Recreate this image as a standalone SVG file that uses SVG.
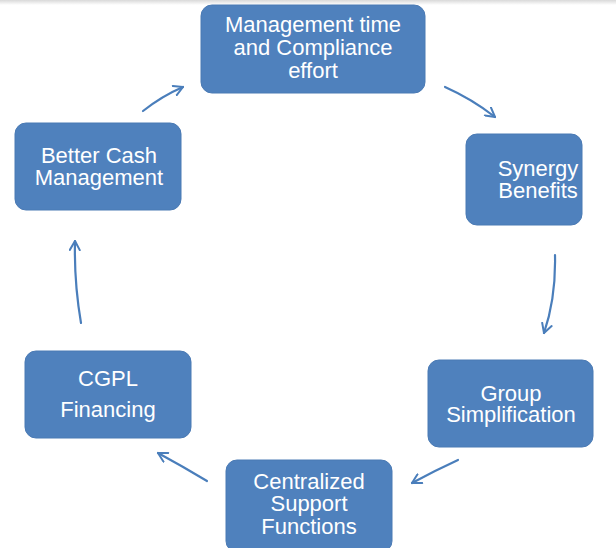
<svg xmlns="http://www.w3.org/2000/svg" width="616" height="548" viewBox="0 0 616 548">
<defs>
<linearGradient id="topband" x1="0" y1="0" x2="0" y2="1">
<stop offset="0" stop-color="#d9d9d9"/>
<stop offset="1" stop-color="#ffffff"/>
</linearGradient>
<marker id="arr" viewBox="0 0 12 12" refX="10" refY="6" markerWidth="12" markerHeight="12" markerUnits="userSpaceOnUse" orient="auto">
<path d="M1,1 L10,6 L1,11" fill="none" stroke="#4A7EBB" stroke-width="2" stroke-linecap="round" stroke-linejoin="round"/>
</marker>
<style>
.box{fill:#4F81BD;stroke:#4A7AB4;stroke-width:1}
.t{font-family:"Liberation Sans",Arial,sans-serif;font-size:22px;fill:#ffffff;text-anchor:middle}
.c{fill:none;stroke:#4A7EBB;stroke-width:2.2;stroke-linecap:round;marker-end:url(#arr)}
</style>
</defs>
<rect width="616" height="548" fill="#ffffff"/>
<rect width="616" height="5" fill="url(#topband)"/>
<g id="n1">
<rect class="box" x="201" y="5" width="224" height="88" rx="11"/>
<text class="t" x="313" y="32">Management time</text>
<text class="t" x="313" y="55">and Compliance</text>
<text class="t" x="313" y="78">effort</text>
</g>
<g id="n2">
<rect class="box" x="466" y="134" width="116" height="91" rx="11"/>
<text class="t" x="538" y="176">Synergy</text>
<text class="t" x="538" y="198">Benefits</text>
</g>
<g id="n3">
<rect class="box" x="428" y="360" width="165" height="87" rx="11"/>
<text class="t" x="511" y="401">Group</text>
<text class="t" x="511" y="422">Simplification</text>
</g>
<g id="n4">
<rect class="box" x="226" y="460" width="166" height="92" rx="11"/>
<text class="t" x="309" y="489">Centralized</text>
<text class="t" x="309" y="511">Support</text>
<text class="t" x="309" y="534">Functions</text>
</g>
<g id="n5">
<rect class="box" x="25" y="351" width="166" height="87" rx="11"/>
<text class="t" x="108" y="386">CGPL</text>
<text class="t" x="108" y="417">Financing</text>
</g>
<g id="n6">
<rect class="box" x="15" y="123" width="166" height="87" rx="11"/>
<text class="t" x="99" y="163">Better Cash</text>
<text class="t" x="99" y="185">Management</text>
</g>
<g id="connectors">
<path class="c" d="M445,87 Q472,99 495,117"/>
<path class="c" d="M555,255 Q556,298 544,333"/>
<path class="c" d="M458,460 Q434,471 412,483"/>
<path class="c" d="M207,481 Q182,466 158,453"/>
<path class="c" d="M81,323 Q74,282 75,241"/>
<path class="c" d="M143,111 Q162,96 183,87"/>
</g>
</svg>
